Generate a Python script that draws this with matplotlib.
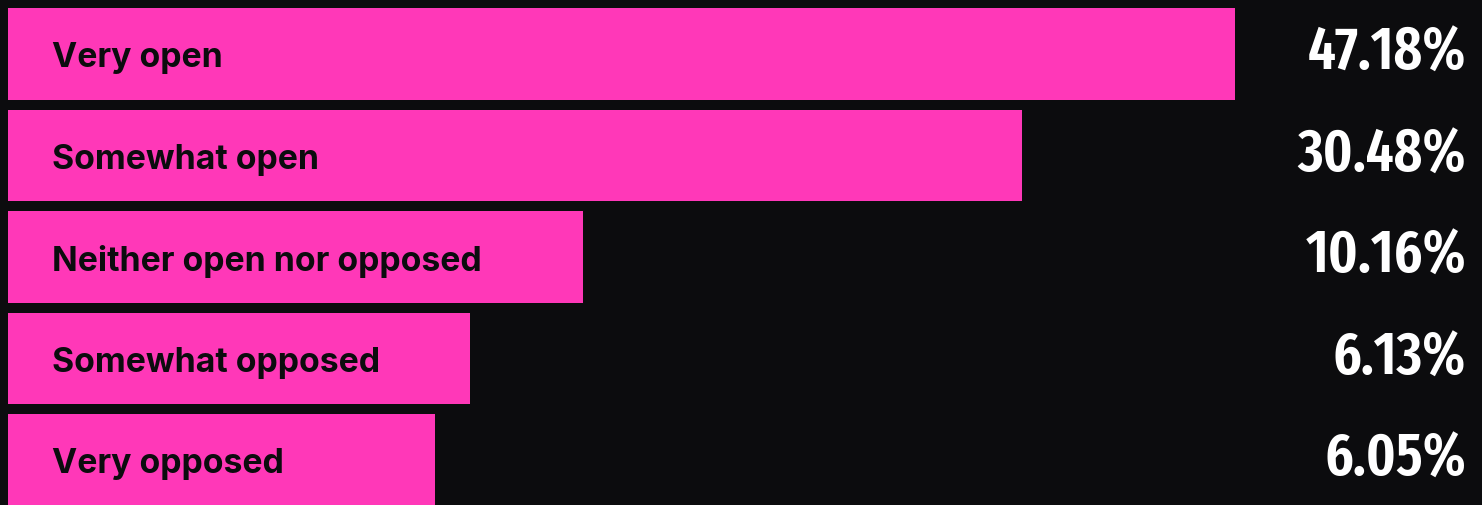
import matplotlib
matplotlib.use("Agg")
import matplotlib.pyplot as plt
from matplotlib import font_manager

categories = ["Very open", "Somewhat open", "Neither open nor opposed",
              "Somewhat opposed", "Very opposed"]
percent_values = [47.18, 30.48, 10.16, 6.13, 6.05]
percent_labels = ["47.18%", "30.48%", "10.16%", "6.13%", "6.05%"]
# bar lengths as drawn in the reference (percent of the full track width)
bar_extent = [83.7, 69.2, 39.2, 31.5, 29.1]

BG = "#0c0c0e"
PINK = "#ff38b8"


def rank(f):
    fn = f.fname.lower().replace("-", "").replace("_", "")
    if "italic" in fn or "oblique" in fn:
        return None
    semib = "semibold" in fn
    bold = "bold" in fn and not semib and "extrabold" not in fn
    if not (bold or semib):
        return None
    if "extracondensed" in fn or "ultracondensed" in fn:
        s = 0
    elif "semicondensed" in fn:
        s = 2
    elif "condensed" in fn or "narrow" in fn:
        s = 1
    else:
        return None
    return (s, 0 if semib else 1, fn)


cand = [(rank(f), f) for f in font_manager.fontManager.ttflist]
cand = [c for c in cand if c[0] is not None]
cand.sort(key=lambda c: c[0])
if cand:
    best = cand[0][1]
    num_prop = font_manager.FontProperties(fname=best.fname)
    stretch_level = cand[0][0][0]
    num_size = {0: 43, 1: 38, 2: 36}[stretch_level]
else:
    num_prop = font_manager.FontProperties(family="DejaVu Sans", weight="bold")
    num_size = 34

fig = plt.figure(figsize=(14.82, 5.06), dpi=100, facecolor=BG)
ax = fig.add_axes([0, 0, 1, 1])
ax.set_facecolor(BG)

W, H = 1482, 506
px = 100 / 1466
c0 = 55.0
pitch = 101.5
ax.set_xlim(-8 * px, (W - 8) * px)
ax.set_ylim((H - c0) / pitch, -c0 / pitch)

ys = list(range(len(categories)))
ax.barh(ys, bar_extent, height=0.9, color=PINK, left=0)

for y, cat, lab in zip(ys, categories, percent_labels):
    ax.text(44 * px, y + 0.03, cat, color=BG, fontsize=24.3, fontweight="bold",
            family=["Inter", "DejaVu Sans"], va="center", ha="left")
    t = ax.text(1458 * px, y - 0.01, lab, color="white",
                fontproperties=num_prop, va="center", ha="right")
    t.set_fontsize(num_size)

ax.axis("off")
fig.savefig("out.png", dpi=100, facecolor=BG)
